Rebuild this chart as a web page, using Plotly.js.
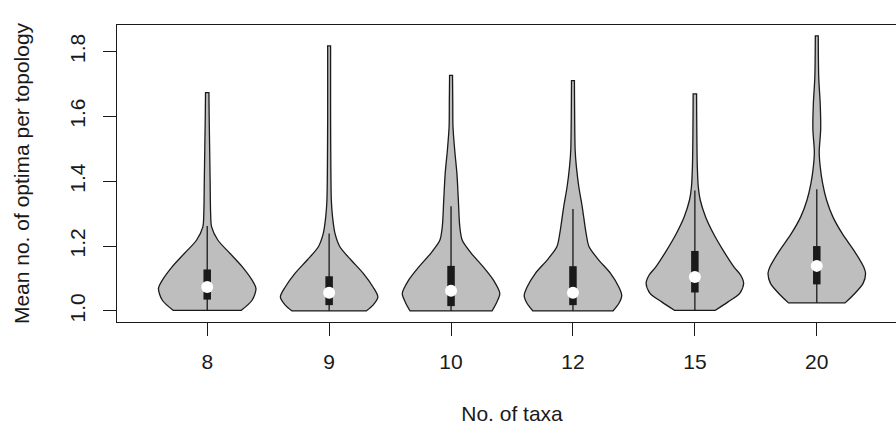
<!DOCTYPE html>
<html>
<head>
<meta charset="utf-8">
<script src="https://cdn.plot.ly/plotly-3.0.1.min.js"></script>
<style>
html, body { margin:0; padding:0; overflow:hidden; background:#fff; }
#chart { width:920px; height:428px; }
</style>
</head>
<body>
<div id="chart"></div>
<script>
// Categories (No. of taxa)
const categories = ['8', '9', '10', '12', '15', '20'];

// Violin density profiles: value levels and relative half-width (1 = widest)
const v8_y  = [1.002, 1.033, 1.069, 1.095, 1.136, 1.177, 1.218, 1.259, 1.30, 1.40, 1.50, 1.60, 1.673];
const v8_w  = [0.70, 0.92, 1.00, 0.92, 0.72, 0.47, 0.22, 0.09, 0.07, 0.06, 0.05, 0.04, 0.035];
const v9_y  = [1.000, 1.018, 1.043, 1.074, 1.116, 1.157, 1.198, 1.239, 1.29, 1.342, 1.45, 1.60, 1.817];
const v9_w  = [0.76, 0.90, 1.00, 0.90, 0.70, 0.45, 0.22, 0.12, 0.07, 0.045, 0.035, 0.03, 0.03];
const v10_y = [1.000, 1.028, 1.054, 1.095, 1.136, 1.177, 1.218, 1.259, 1.342, 1.424, 1.496, 1.568, 1.65, 1.726];
const v10_w = [0.84, 0.94, 1.00, 0.87, 0.66, 0.42, 0.23, 0.18, 0.15, 0.12, 0.075, 0.04, 0.035, 0.03];
const v12_y = [1.000, 1.023, 1.048, 1.074, 1.116, 1.157, 1.198, 1.239, 1.321, 1.383, 1.445, 1.496, 1.60, 1.71];
const v12_w = [0.82, 0.94, 1.00, 0.94, 0.77, 0.53, 0.33, 0.27, 0.19, 0.12, 0.07, 0.045, 0.035, 0.03];
const v15_y = [1.002, 1.028, 1.054, 1.085, 1.110, 1.136, 1.187, 1.239, 1.29, 1.342, 1.383, 1.445, 1.55, 1.669];
const v15_w = [0.42, 0.68, 0.92, 1.00, 0.94, 0.80, 0.58, 0.38, 0.22, 0.11, 0.07, 0.05, 0.04, 0.035];
const v20_y = [1.025, 1.054, 1.085, 1.116, 1.136, 1.187, 1.239, 1.29, 1.342, 1.393, 1.445, 1.49, 1.56, 1.64, 1.72, 1.848];
const v20_w = [0.58, 0.78, 0.95, 1.00, 0.96, 0.76, 0.52, 0.33, 0.20, 0.12, 0.07, 0.05, 0.08, 0.07, 0.04, 0.03];

// Box statistics
const whiskerLow  = [1.000, 1.000, 1.000, 1.000, 1.000, 1.025];
const q1          = [1.035, 1.018, 1.015, 1.018, 1.057, 1.082];
const medians     = [1.074, 1.056, 1.062, 1.056, 1.105, 1.139];
const q3          = [1.128, 1.107, 1.139, 1.138, 1.185, 1.200];
const whiskerHigh = [1.262, 1.239, 1.323, 1.314, 1.371, 1.375];

// Axis ticks
const yTickVals = [1.0, 1.2, 1.4, 1.6, 1.8];
const yTickText = ['1.0', '1.2', '1.4', '1.6', '1.8'];

const profiles = [[v8_y, v8_w], [v9_y, v9_w], [v10_y, v10_w], [v12_y, v12_w], [v15_y, v15_w], [v20_y, v20_w]];
const positions = categories.map((c, i) => i + 1);
const HALF = 0.4;
const DARK = '#1a1a1a';

const traces = [];
profiles.forEach(([ys, ws], i) => {
  const p = positions[i];
  const n = ys.length;
  const xs = [], yy = [];
  xs.push(p - ws[0] * HALF, p - ws[0] * HALF); yy.push(ys[0], ys[0]);
  for (let k = 1; k < n - 1; k++) { xs.push(p - ws[k] * HALF); yy.push(ys[k]); }
  xs.push(p - ws[n - 1] * HALF, p - ws[n - 1] * HALF, p + ws[n - 1] * HALF, p + ws[n - 1] * HALF);
  yy.push(ys[n - 1], ys[n - 1], ys[n - 1], ys[n - 1]);
  for (let k = n - 2; k >= 1; k--) { xs.push(p + ws[k] * HALF); yy.push(ys[k]); }
  xs.push(p + ws[0] * HALF, p + ws[0] * HALF, p - ws[0] * HALF); yy.push(ys[0], ys[0], ys[0]);
  traces.push({
    type: 'scatter', mode: 'lines', x: xs, y: yy,
    fill: 'toself', fillcolor: '#bebebe',
    line: { color: DARK, width: 1.3, shape: 'spline', smoothing: 0.8 },
    hoverinfo: 'skip', showlegend: false
  });
});

// whiskers
const wx = [], wy = [];
positions.forEach((p, i) => { wx.push(p, p, null); wy.push(whiskerLow[i], whiskerHigh[i], null); });
traces.push({
  type: 'scatter', mode: 'lines', x: wx, y: wy,
  line: { color: DARK, width: 1.3 }, hoverinfo: 'skip', showlegend: false
});

// boxes (q1 - q3)
const bx = [], by = [];
positions.forEach((p, i) => { bx.push(p, p, null); by.push(q1[i], q3[i], null); });
traces.push({
  type: 'scatter', mode: 'lines', x: bx, y: by,
  line: { color: DARK, width: 7.5 }, hoverinfo: 'skip', showlegend: false
});

// medians
traces.push({
  type: 'scatter', mode: 'markers', x: positions, y: medians,
  marker: { color: '#ffffff', size: 12, line: { width: 0 } },
  hoverinfo: 'skip', showlegend: false
});

const font = { family: 'Liberation Sans, Arial, sans-serif', size: 21, color: DARK };

const layout = {
  width: 920, height: 428,
  margin: { l: 117, r: 13, t: 25, b: 106, pad: 0 },
  paper_bgcolor: '#ffffff', plot_bgcolor: '#ffffff',
  font: font,
  showlegend: false,
  xaxis: {
    range: [0.26, 6.74], tickmode: 'array', tickvals: positions, ticktext: categories,
    ticks: 'outside', ticklen: 13, tickwidth: 1, tickcolor: DARK,
    showline: true, mirror: true, linecolor: DARK, linewidth: 1.3,
    showgrid: false, zeroline: false, tickfont: font, ticklabelstandoff: 7,
    title: { text: 'No. of taxa', font: font, standoff: 34 }
  },
  yaxis: {
    range: [0.966, 1.8815], tickmode: 'array', tickvals: yTickVals, ticktext: yTickText,
    tickangle: -90,
    ticks: 'outside', ticklen: 13, tickwidth: 1, tickcolor: DARK,
    showline: true, mirror: true, linecolor: DARK, linewidth: 1.3,
    showgrid: false, zeroline: false, tickfont: font, ticklabelstandoff: 9,
    title: { text: 'Mean no. of optima per topology', font: font, standoff: 31 }
  }
};

Plotly.newPlot('chart', traces, layout, { displayModeBar: false, staticPlot: true });
</script>
</body>
</html>
